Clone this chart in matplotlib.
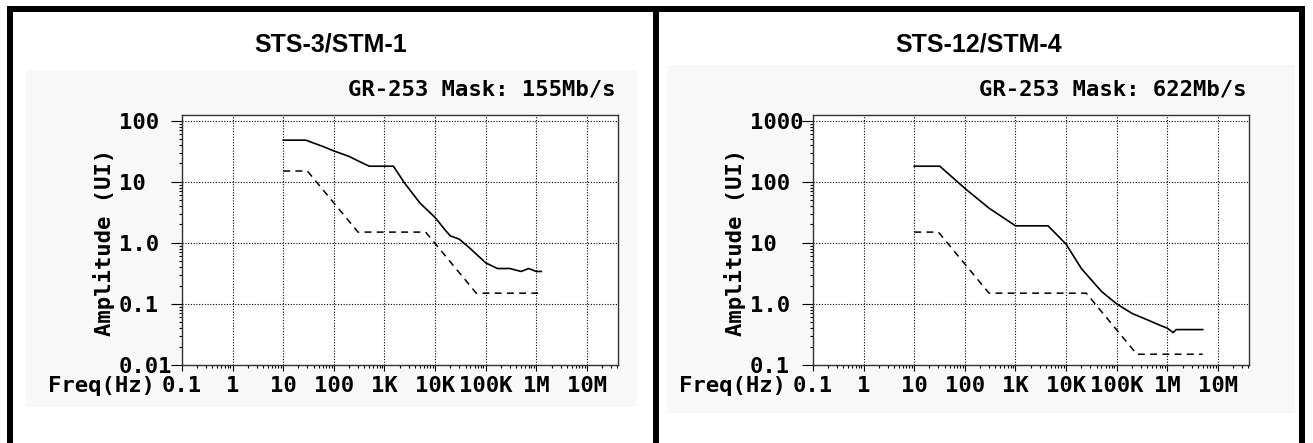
import numpy as np
import matplotlib
matplotlib.use("Agg")
import matplotlib.pyplot as plt
from matplotlib.patches import Rectangle
from matplotlib.ticker import FixedLocator, LogLocator, NullFormatter

# ---- data ----
titles = ["STS-3/STM-1", "STS-12/STM-4"]
mask_labels = ["GR-253 Mask: 155Mb/s", "GR-253 Mask: 622Mb/s"]

x_ticks = [0.1, 1, 10, 100, 1e3, 1e4, 1e5, 1e6, 1e7]
x_tick_labels = ["0.1", "1", "10", "100", "1K", "10K", "100K", "1M", "10M"]

y_ticks_155 = [0.01, 0.1, 1, 10, 100]
y_tick_labels_155 = ["0.01", "0.1", "1.0", "10", "100"]
y_ticks_622 = [0.1, 1, 10, 100, 1000]
y_tick_labels_622 = ["0.1", "1.0", "10", "100", "1000"]

# measured tolerance (solid) and GR-253 mask (dashed), STS-3
meas_f_155 = [10, 28, 60, 100, 200, 300, 500, 1500, 2500, 5000, 10000, 16000,
              20000, 30000, 50000, 100000, 170000, 300000, 500000, 700000, 1000000, 1250000]
meas_a_155 = [48, 48, 38, 32, 26, 22, 18, 18, 9.5, 4.5, 2.6, 1.6,
              1.3, 1.15, 0.8, 0.47, 0.38, 0.38, 0.34, 0.38, 0.34, 0.34]
mask_f_155 = [10, 30, 300, 6500, 65000, 1300000]
mask_a_155 = [15, 15, 1.5, 1.5, 0.15, 0.15]

# STS-12
meas_f_622 = [10, 32, 100, 300, 1000, 4400, 10000, 20000, 50000, 100000,
              200000, 400000, 700000, 1000000, 1300000, 1500000, 5000000]
meas_a_622 = [180, 180, 78, 37, 19, 19, 9.5, 3.8, 1.6, 1.0,
              0.7, 0.55, 0.45, 0.4, 0.34, 0.38, 0.38]
mask_f_622 = [10, 30, 300, 25000, 250000, 5000000]
mask_a_622 = [15, 15, 1.5, 1.5, 0.15, 0.15]

W, H = 1313, 443
fig = plt.figure(figsize=(W / 100, H / 100), dpi=100)
fig.patch.set_facecolor("white")

mono = "DejaVu Sans Mono"
fs = 16


def px_rect(x0, y0, x1, y1, color, z=1):
    r = Rectangle((x0 / W, 1 - y1 / H), (x1 - x0) / W, (y1 - y0) / H,
                  transform=fig.transFigure, facecolor=color, edgecolor="none", zorder=z)
    fig.patches.append(r)


# screenshot backgrounds
px_rect(26, 70, 637, 407, "#f8f8f8", z=-2)
px_rect(667, 65, 1295, 413, "#f8f8f8", z=-2)
# black frame
px_rect(7, 6, 1305, 12, "black")
px_rect(7, 6, 13, 443, "black")
px_rect(653, 6, 659, 443, "black")
px_rect(1299, 6, 1305, 443, "black")

panels = [
    (182, titles[0], mask_labels[0], y_ticks_155, y_tick_labels_155, (0.01, 124),
     meas_f_155, meas_a_155, mask_f_155, mask_a_155, 331),
    (813, titles[1], mask_labels[1], y_ticks_622, y_tick_labels_622, (0.1, 1240),
     meas_f_622, meas_a_622, mask_f_622, mask_a_622, 979),
]

for left, title, mlab, yt, ytl, ylim, mf, ma, kf, ka, tx in panels:
    ax = fig.add_axes([left / W, 1 - 365 / H, 436 / W, 250 / H])
    ax.set_facecolor("white")
    ax.set_xscale("log")
    ax.set_yscale("log")
    ax.set_xlim(0.1, 4.1e7)
    ax.set_ylim(*ylim)

    ax.plot(mf, ma, color="black", lw=1.2, solid_joinstyle="round")
    ax.plot(kf, ka, color="black", lw=1.1, linestyle=(0, (4.5, 3.5)))

    ax.xaxis.set_major_locator(FixedLocator(x_ticks))
    ax.set_xticklabels(x_tick_labels, family=mono, fontsize=fs, weight="bold")
    ax.xaxis.set_minor_locator(LogLocator(base=10, subs=np.arange(2, 10)))
    ax.xaxis.set_minor_formatter(NullFormatter())
    ax.yaxis.set_major_locator(FixedLocator(yt))
    ax.set_yticklabels(ytl, family=mono, fontsize=fs, weight="bold", ha="left")
    ax.yaxis.set_minor_locator(LogLocator(base=10, subs=np.arange(2, 10)))
    ax.yaxis.set_minor_formatter(NullFormatter())

    ax.tick_params(axis="y", which="major", direction="out", length=8, width=0.8, pad=37.5)
    ax.tick_params(axis="y", which="minor", direction="out", length=2.5, width=0.8)
    ax.tick_params(axis="x", which="major", direction="out", length=4, width=0.8, pad=4)
    ax.tick_params(axis="x", which="minor", direction="out", length=2.5, width=0.8)

    ax.grid(True, which="major", color="black", lw=0.8, linestyle=(0, (1, 1.5)))
    for s in ax.spines.values():
        s.set_color("#333333")
        s.set_linewidth(1.0)

    ax.text(-0.179, 0.49, "Amplitude (UI)", rotation=90, ha="center", va="center",
            family=mono, fontsize=fs, weight="bold", transform=ax.transAxes)
    ax.text(-0.307, -0.084, "Freq(Hz)", ha="left", va="center",
            family=mono, fontsize=fs, weight="bold", transform=ax.transAxes)
    ax.text(0.994, 1.10, mlab, ha="right", va="center",
            family=mono, fontsize=fs, weight="bold", transform=ax.transAxes)

    fig.text(tx / W, 1 - 45 / H, title, ha="center", va="center",
             family="Liberation Sans", weight="bold", fontsize=18)

fig.savefig("out.png", dpi=100, facecolor="white")
